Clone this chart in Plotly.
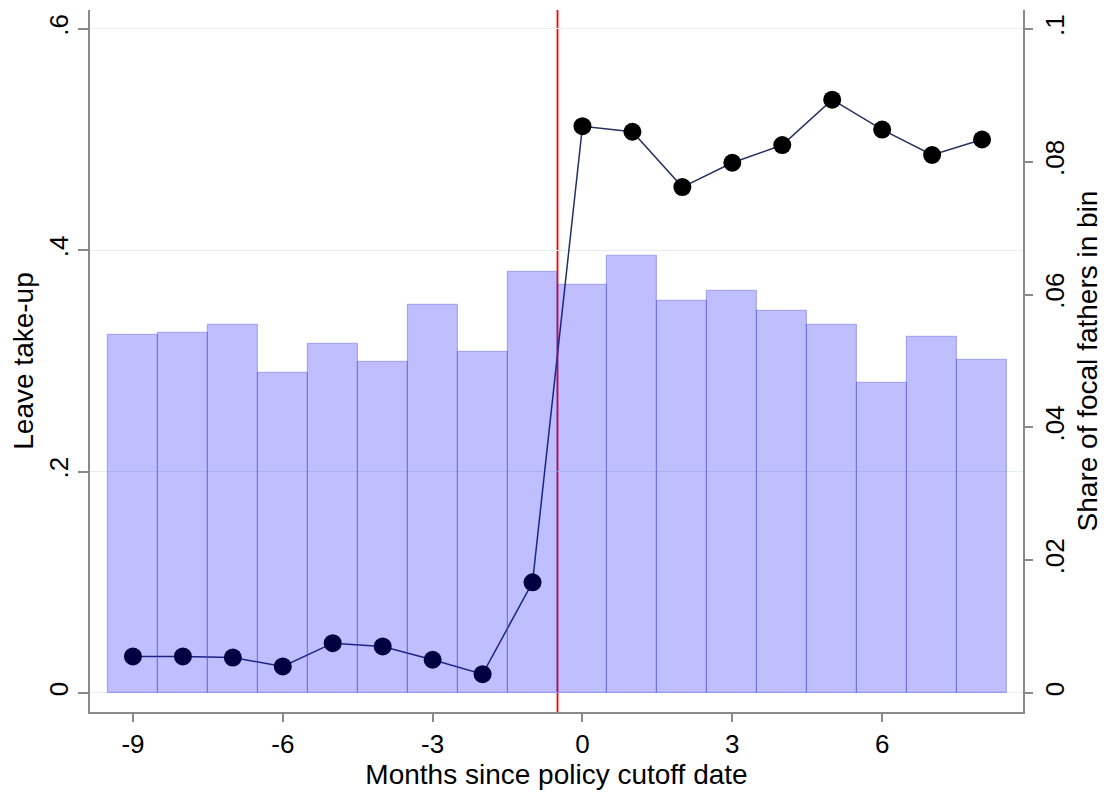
import plotly.graph_objects as go

# months relative to the policy cutoff
months = list(range(-9, 9))

# leave take-up by month (left axis)
takeup = [0.033, 0.033, 0.032, 0.024, 0.045, 0.042, 0.030, 0.017, 0.100,
          0.512, 0.507, 0.457, 0.479, 0.495, 0.536, 0.509, 0.486, 0.500]

# share of focal fathers in each bin (right axis)
share = [0.0539, 0.0542, 0.0554, 0.0482, 0.0526, 0.0498, 0.0584, 0.0514, 0.0634,
         0.0614, 0.0658, 0.0590, 0.0605, 0.0575, 0.0554, 0.0467, 0.0536, 0.0502]

left_ticks = [0, 0.2, 0.4, 0.6]
left_labels = ["0", ".2", ".4", ".6"]
right_ticks = [0, 0.02, 0.04, 0.06, 0.08, 0.1]
right_labels = ["0", ".02", ".04", ".06", ".08", ".1"]
x_ticks = [-9, -6, -3, 0, 3, 6]
x_labels = ["-9", "-6", "-3", "0", "3", "6"]

font = "Liberation Sans, Arial, sans-serif"
axis_grey = "#8a8a8a"

fig = go.Figure()

fig.add_trace(go.Scatter(
    x=months, y=takeup, mode="lines+markers",
    line=dict(color="#24305e", width=1.5),
    marker=dict(color="black", size=18),
    yaxis="y", showlegend=False,
))

fig.add_trace(go.Bar(
    x=months, y=share, width=1,
    marker=dict(color="rgba(0,0,255,0.25)",
                line=dict(color="rgba(60,60,230,0.35)", width=1.2)),
    yaxis="y2", showlegend=False,
))

# policy cutoff
fig.add_shape(type="line", xref="x", yref="paper", x0=-0.5, x1=-0.5, y0=0, y1=1,
              line=dict(color="red", width=1.8), layer="below")

fig.update_layout(
    width=1098, height=786,
    margin=dict(l=82, r=83, t=2, b=82),
    paper_bgcolor="white", plot_bgcolor="white",
    font=dict(family=font, size=26, color="black"),
    bargap=0,
    xaxis=dict(
        range=[-9.86, 8.82], tickvals=x_ticks, ticktext=x_labels, ticks="outside", ticklen=8,
        tickcolor=axis_grey, tickwidth=1.5, automargin=False,
        showline=True, linecolor=axis_grey, linewidth=2, showgrid=False, zeroline=False,
        title=dict(text="Months since policy cutoff date", font=dict(size=28), standoff=3),
    ),
    yaxis=dict(
        range=[-0.0172, 0.617], tickvals=left_ticks, ticktext=left_labels, automargin=False,
        tickangle=-90, ticks="outside", ticklen=10, tickcolor=axis_grey, tickwidth=1.5,
        showline=True, linecolor=axis_grey, linewidth=2,
        showgrid=True, gridcolor="#e6eef0", gridwidth=1, zeroline=False,
        title=dict(text="Leave take-up", font=dict(size=28), standoff=4),
    ),
    yaxis2=dict(
        range=[-0.00287, 0.10287], tickvals=right_ticks, ticktext=right_labels,
        overlaying="y", side="right", automargin=False,
        tickangle=-90, ticks="outside", ticklen=8, tickcolor=axis_grey, tickwidth=1.5,
        showline=True, linecolor=axis_grey, linewidth=2, showgrid=False, zeroline=False,
        title=dict(text="Share of focal fathers in bin", font=dict(size=28), standoff=8),
    ),
)

fig.write_html("out.html")
